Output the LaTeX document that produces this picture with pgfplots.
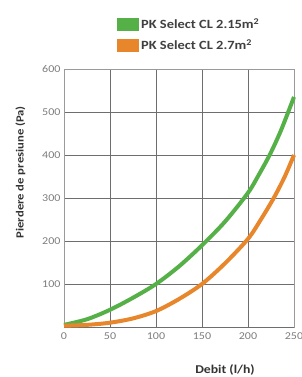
\documentclass[border=0pt]{standalone}
\usepackage{pgfplots}
\pgfplotsset{compat=1.18}
\usepackage{fontspec}
\setmainfont[FakeStretch=1.15]{Carlito}
\definecolor{cgreen}{RGB}{86,176,72}
\definecolor{corange}{RGB}{232,134,44}
\definecolor{gridc}{RGB}{110,110,110}
\definecolor{tickc}{RGB}{125,125,125}
\begin{document}
\begin{tikzpicture}[x=1bp,y=1bp]
\begin{axis}[
  at={(64bp,50bp)}, anchor=south west,
  scale only axis, width=230bp, height=258bp,
  xmin=0, xmax=250, ymin=0, ymax=600,
  xtick={0,50,100,150,200,250},
  ytick={100,200,300,400,500,600},
  extra y ticks={0}, extra y tick labels={},
  grid=major,
  major grid style={gridc, line width=0.8bp},
  axis line style={gridc!70, line width=0.8bp},
  major tick length=0pt,
  tick label style={font=\fontsize{10.5}{12}\selectfont, text=tickc},
  /pgf/number format/assume math mode=true,
  xticklabel style={yshift=-2bp},
  yticklabel style={xshift=0bp},
  xlabel={Debit (l/h)},
  xlabel style={at={(rel axis cs:0.70,-0.168)}, anchor=center, font=\fontsize{12}{14}\selectfont\bfseries, text=black!80},
  ylabel={Pierdere de presiune (Pa)},
  ylabel style={at={(rel axis cs:-0.19,0.60)}, anchor=center, font=\fontsize{11}{13}\selectfont\bfseries, text=black!80},
  legend style={draw=none, fill=none, at={(rel axis cs:0.228,1.205)}, anchor=north west,
    font=\fontsize{12.6}{14}\selectfont\bfseries, text=black!75, row sep=4bp, inner sep=0pt,
    nodes={inner sep=2.5pt}},
  legend cell align=left,
  legend image code/.code={\fill (0bp,-4.5bp) rectangle (18bp,4.5bp);},
  clip=false,
]
\addplot[cgreen, line width=4bp, smooth] coordinates {
 (0,5) (25,18) (50,40) (75,68) (100,100) (125,141) (150,190) (175,245) (200,312)
 (212,355) (224,402) (236,458) (250,535)};
\addlegendentry{PK Select CL 2.15m\textsuperscript{2}}
\addplot[corange, line width=4bp, smooth] coordinates {
 (0,3) (25,5) (50,10) (75,20) (100,37) (125,65) (150,100) (175,148) (200,205)
 (214,250) (228,300) (240,350) (250,400)};
\addlegendentry{PK Select CL 2.7m\textsuperscript{2}}
\end{axis}
\pgfresetboundingbox
\path[use as bounding box] (0,0) rectangle (302bp,377bp);
\end{tikzpicture}
\end{document}
